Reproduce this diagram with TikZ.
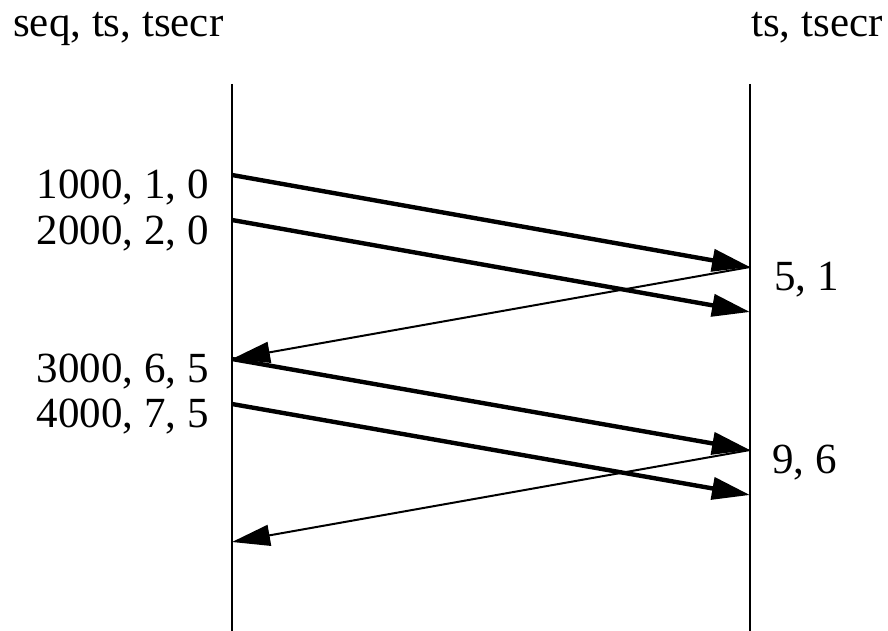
\documentclass[tikz,border=0pt]{standalone}
\usepackage{fontspec}
\setmainfont{Liberation Serif}
\usetikzlibrary{arrows.meta}
\begin{document}
\begin{tikzpicture}[x=1pt,y=-1pt,
  lbl/.style={inner sep=0pt,font=\fontsize{43}{48}\selectfont},
  life/.style={line width=2pt},
  data/.style={line width=4.4pt,-{Triangle[length=38pt,width=22pt]}},
  ack/.style={line width=2pt,-{Triangle[length=38pt,width=21pt]}}]
\useasboundingbox (0,0) rectangle (888,631);
% headers
\node[lbl,anchor=base west] (hl) at (13,37) {seq, ts, tsecr};
\node[lbl,anchor=base west] (hr) at (751,37) {ts, tsecr};
% lifelines
\coordinate (lt) at (232,84);
\coordinate (lb) at (232,631);
\coordinate (rt) at (750,84);
\coordinate (rb) at (750,631);
\draw[life] (lt) -- (lb);
\draw[life] (rt) -- (rb);
% endpoints
\coordinate (a1) at (232,175);
\coordinate (a2) at (232,220);
\coordinate (a3) at (232,359);
\coordinate (a4) at (232,404);
\coordinate (a5) at (232,542);
\coordinate (b1) at (750,267);
\coordinate (b2) at (750,312);
\coordinate (b3) at (750,450);
\coordinate (b4) at (750,495);
% labels
\node[lbl,anchor=base east] (s1) at (209,198) {1000, 1, 0};
\node[lbl,anchor=base east] (s2) at (209,244) {2000, 2, 0};
\node[lbl,anchor=base east] (s3) at (209,382) {3000, 6, 5};
\node[lbl,anchor=base east] (s4) at (209,427) {4000, 7, 5};
\node[lbl,anchor=base west] (r1) at (774,290) {5, 1};
\node[lbl,anchor=base west] (r2) at (772,473) {9, 6};
% messages
\draw[data] (a1) -- (b1);
\draw[data] (a2) -- (b2);
\draw[ack] (b1) -- (a3);
\draw[data] (a3) -- (b3);
\draw[data] (a4) -- (b4);
\draw[ack] (b3) -- (a5);
\end{tikzpicture}
\end{document}
